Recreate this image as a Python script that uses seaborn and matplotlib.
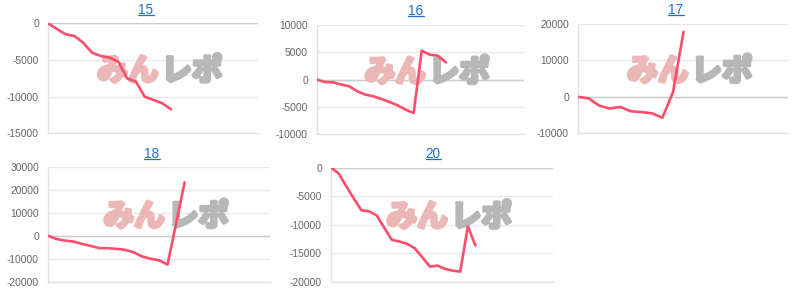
import matplotlib
matplotlib.use('Agg')
import matplotlib.pyplot as plt
import matplotlib.patheffects as pe
import seaborn as sns
import pandas as pd
from matplotlib.lines import Line2D

# ---- data ----
titles = ['15', '16', '17', '18', '20']
s15 = [0, -770, -1500, -1730, -2640, -4000, -4450, -4680, -5230, -7500, -7950, -10000, -10450, -10900, -11730]
s16 = [0, -430, -490, -900, -1220, -2130, -2740, -3050, -3540, -4090, -4700, -5490, -6100, 5300, 4570, 4390, 3170]
s17 = [0, -400, -2400, -3200, -2770, -3950, -4170, -4510, -5700, 1250, 17850]
s18 = [0, -1430, -2140, -2570, -3570, -4430, -5430, -5430, -5710, -6140, -7140, -9000, -10000, -10700, -12570, 5290, 23140]
s20 = [0, -1000, -3240, -5400, -7470, -7650, -8350, -10530, -12650, -12940, -13350, -14120, -15700,
       -17350, -17180, -17760, -18060, -18240, -10290, -13650]
series = [s15, s16, s17, s18, s20]
yticks15 = [-15000, -10000, -5000, 0]
yticks16 = [-10000, -5000, 0, 5000, 10000]
yticks17 = [-10000, 0, 10000, 20000]
yticks18 = [-20000, -10000, 0, 10000, 20000, 30000]
yticks20 = [-20000, -15000, -10000, -5000, 0]
yticks = [yticks15, yticks16, yticks17, yticks18, yticks20]
watermark_a = 'みん'
watermark_b = 'レポ'

# ---- layout (pixels) ----
W, H = 800, 289
boxes = [(48, 23.3, 258, 133.3), (317, 25, 524, 134.3), (578, 24, 788, 133.3),
         (48, 166.7, 270, 281.7), (331, 167.7, 553, 281.7)]
xmaxs = [23.9, 25.7, 19.9, 26.0, 29.2]
title_pos = [(146, 13.6), (416, 14.8), (676, 13.8), (152, 157.8), (433, 157.8)]

LINE = '#ff4d6b'
TITLE_C = '#1a6fd0'

sns.set_theme(style='white')
plt.rcParams['font.family'] = ['Liberation Sans', 'Noto Sans CJK JP', 'DejaVu Sans']
plt.rcParams['axes.unicode_minus'] = False

fig = plt.figure(figsize=(W / 100, H / 100), dpi=100)
title_texts = []
for i, (vals, ticks, box, xm) in enumerate(zip(series, yticks, boxes, xmaxs)):
    x0, y0, x1, y1 = box
    ax = fig.add_axes([x0 / W, 1 - y1 / H, (x1 - x0) / W, (y1 - y0) / H])
    ax.set_facecolor('none')
    df = pd.DataFrame({'x': list(range(len(vals))), 'y': vals})
    sns.lineplot(data=df, x='x', y='y', ax=ax, color=LINE, linewidth=1.9, zorder=4)
    ax.set_xlim(0, xm)
    ax.set_ylim(ticks[0], ticks[-1])
    ax.set_yticks(ticks)
    ax.set_yticklabels([str(t) for t in ticks])
    ax.set_xticks([])
    ax.set_xlabel('')
    ax.set_ylabel('')
    ax.grid(axis='y', color='#e9e9e9', linewidth=1)
    ax.set_axisbelow(True)
    ax.axhline(0, color='#cccccc', linewidth=1, zorder=1)
    for s in ['top', 'right']:
        ax.spines[s].set_visible(False)
    ax.spines['left'].set_color('#e2e2e2')
    ax.spines['bottom'].set_color('#e2e2e2')
    ax.spines['left'].set_linewidth(1)
    ax.spines['bottom'].set_linewidth(1)
    ax.tick_params(axis='y', length=0, pad=6.5, labelsize=7.4, labelcolor='#666666')
    # watermark
    ca, cb = '#ebb7b7', '#b7b7b7'
    ax.text(0.525, 0.565, watermark_a, transform=ax.transAxes, ha='right', va='center',
            fontsize=22, fontweight='bold', color=ca, zorder=2,
            family=['Noto Sans CJK JP', 'DejaVu Sans'],
            path_effects=[pe.withStroke(linewidth=2.6, foreground=ca)])
    ax.text(0.54, 0.565, watermark_b, transform=ax.transAxes, ha='left', va='center',
            fontsize=22, fontweight='bold', color=cb, zorder=2,
            family=['Noto Sans CJK JP', 'DejaVu Sans'],
            path_effects=[pe.withStroke(linewidth=2.6, foreground=cb)])
    tx, ty = title_pos[i]
    t = fig.text(tx / W, 1 - ty / H, titles[i], ha='center', va='baseline',
                 fontsize=9.8, color=TITLE_C)
    title_texts.append((t, ty))

fig.canvas.draw()
r = fig.canvas.get_renderer()
for t, ty in title_texts:
    bb = t.get_window_extent(r)
    yl = 1 - (ty + 1.6) / H
    fig.add_artist(Line2D([bb.x0 / W, bb.x1 / W], [yl, yl], color=TITLE_C, linewidth=0.9,
                          transform=fig.transFigure))

fig.savefig('out.png', dpi=100)
